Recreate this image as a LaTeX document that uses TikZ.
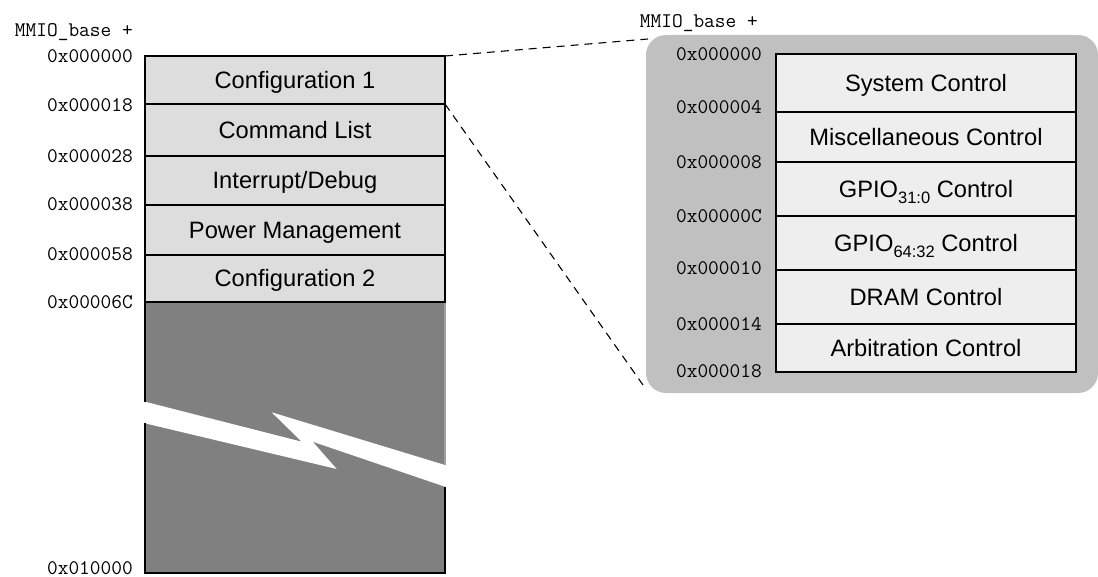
\documentclass[tikz,border=0pt]{standalone}
\usepackage{fontspec}
\setmainfont{Liberation Sans}
\definecolor{cellL}{RGB}{221,221,221}
\definecolor{cellR}{RGB}{238,238,238}
\definecolor{panelc}{RGB}{192,192,192}
\definecolor{darkc}{RGB}{128,128,128}
\newcommand{\subtxt}[1]{\raisebox{-6pt}{\fontsize{16.5}{18}\selectfont #1}}
\begin{document}
\begin{tikzpicture}[x=1pt,y=-1pt,
  lrow/.style={draw=black, line width=1.2pt, fill=cellL, minimum width=300pt,
    inner sep=0pt, outer sep=0pt, anchor=north west, text height=17pt, text depth=0pt,
    font=\fontsize{23.7}{26}\selectfont},
  rrow/.style={draw=black, line width=2.2pt, fill=cellR, minimum width=300pt,
    inner sep=0pt, outer sep=0pt, anchor=north west, text height=17pt, text depth=0pt,
    font=\fontsize{23.7}{26}\selectfont},
  addr/.style={font=\ttfamily\fontsize{20.8}{22}\selectfont, anchor=east,
    inner sep=0pt, text height=12.5pt, text depth=0pt},
  zoomline/.style={dash pattern=on 8pt off 6pt, line width=1.1pt},
  panelbox/.style={fill=panelc, rounded corners=20pt, minimum width=452pt,
    minimum height=358pt, inner sep=0pt, outer sep=0pt, anchor=north west}
]
\useasboundingbox (0,0) rectangle (1098,577);

% zoom panel
\node[panelbox] (panel) at (646,35) {};
\coordinate (zt) at (648,39);
\coordinate (zb) at (643,385);

% left map
\node[lrow, minimum height=48pt] (c1) at (145,56) {Configuration 1};
\node[lrow, minimum height=52pt] (cl) at (145,104) {Command List};
\node[lrow, minimum height=49pt] (id) at (145,156) {Interrupt/Debug};
\node[lrow, minimum height=50pt] (pm) at (145,205) {Power Management};
\node[lrow, minimum height=47pt] (c2) at (145,255) {Configuration 2};

% unused region with break
\fill[darkc] (145,302) rectangle (445,573);
\fill[white] (145,401.7) -- (301.7,441.7) -- (271.7,412.3) -- (445,465)
  -- (445,486.7) -- (312.7,441.7) -- (336.7,469) -- (145,423.3) -- cycle;
\draw[line width=1.2pt] (145,302) -- (145,401.7);
\draw[line width=1.2pt] (145,423.3) -- (145,573) -- (445,573) -- (445,486.7);
\draw[line width=1.2pt, gray!75] (445,303) -- (445,465);
\draw[line width=2.2pt] (c2.south west) -- (c2.south east);

% left addresses
\node[addr] (mb1) at (133,30) {MMIO\_base +};
\node[addr] (a0) at (133,56) {0x000000};
\node[addr] (a1) at (133,105) {0x000018};
\node[addr] (a2) at (133,156) {0x000028};
\node[addr] (a3) at (133,204) {0x000038};
\node[addr] (a4) at (133,254) {0x000058};
\node[addr] (a5) at (133,302) {0x00006C};
\node[addr] (a6) at (133,568.5) {0x010000};

% dashed zoom lines
\draw[zoomline] (c1.north east) -- (zt);
\draw[zoomline] (c1.south east) -- (zb);

% right table
\node[rrow, minimum height=57.7pt] (r1) at (776,54) {System Control};
\node[rrow, minimum height=50.6pt] (r2) at (776,111.7) {Miscellaneous Control};
\node[rrow, minimum height=53.4pt] (r3) at (776,162.3) {GPIO\subtxt{31:0} Control};
\node[rrow, minimum height=54.3pt] (r4) at (776,215.7) {GPIO\subtxt{64:32} Control};
\node[rrow, minimum height=54pt] (r5) at (776,270) {DRAM Control};
\node[rrow, minimum height=47.7pt] (r6) at (776,324) {Arbitration Control};

% right addresses
\node[addr] (mb2) at (758,21) {MMIO\_base +};
\node[addr] (b0) at (762,54) {0x000000};
\node[addr] (b1) at (762,107) {0x000004};
\node[addr] (b2) at (762,162) {0x000008};
\node[addr] (b3) at (762,216) {0x00000C};
\node[addr] (b4) at (762,268) {0x000010};
\node[addr] (b5) at (762,324) {0x000014};
\node[addr] (b6) at (762,371) {0x000018};
\end{tikzpicture}
\end{document}
